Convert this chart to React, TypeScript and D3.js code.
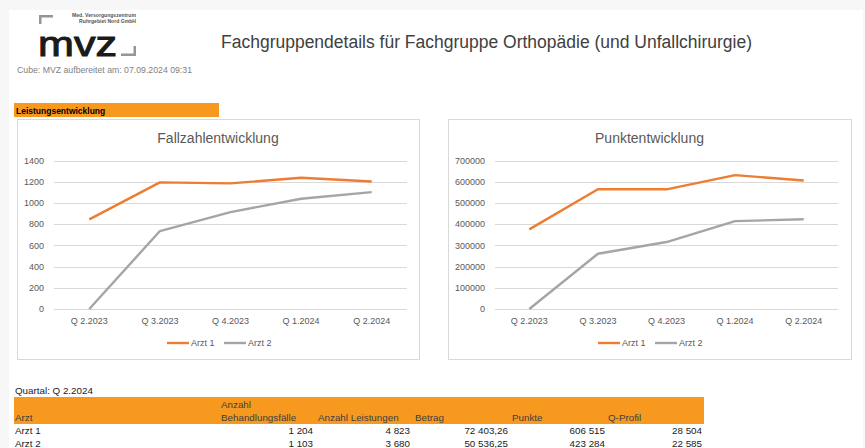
import React from 'react';
import * as d3 from 'd3';

// Quartale und Werte aus dem Bericht
const quarters = ['Q 2.2023', 'Q 3.2023', 'Q 4.2023', 'Q 1.2024', 'Q 2.2024'];
const seriesNames = ['Arzt 1', 'Arzt 2'];
const fallArzt1 = [846, 1195, 1186, 1239, 1204];
const fallArzt2 = [0, 736, 915, 1041, 1103];
const punkteArzt1 = [376000, 565000, 565000, 632000, 606515];
const punkteArzt2 = [0, 261000, 316000, 415000, 423284];
const fallTicks = [0, 200, 400, 600, 800, 1000, 1200, 1400];
const punkteTicks = [0, 100000, 200000, 300000, 400000, 500000, 600000, 700000];

const tableHeader = ['Arzt', 'Anzahl\nBehandlungsfälle', 'Anzahl Leistungen', 'Betrag', 'Punkte', 'Q-Profil'];
const tableRows = [
  ['Arzt 1', '1 204', '4 823', '72 403,26', '606 515', '28 504'],
  ['Arzt 2', '1 103', '3 680', '50 536,25', '423 284', '22 585'],
];

const colors = ['#ED7D31', '#A5A5A5'];
const font = '"Liberation Sans", Arial, sans-serif';

type ChartProps = {
  left: number; right: number; top: number; bottom: number;
  plotLeft: number; plotRight: number;
  title: string; ticks: number[]; series: number[][];
  legendX: number;
};

function LineChart(p: ChartProps) {
  const x = d3.scaleBand().domain(quarters).range([p.plotLeft, p.plotRight]);
  const y = d3.scaleLinear().domain([0, d3.max(p.ticks) as number]).range([309, 160.7]);
  const line = d3.line<number>()
    .x((d, i) => (x(quarters[i]) as number) + x.bandwidth() / 2)
    .y(d => y(d));

  return (
    <g>
      <rect x={p.left + 0.5} y={p.top + 0.5} width={p.right - p.left} height={p.bottom - p.top}
        fill="#fff" stroke="#d9d9d9" />
      <text x={(p.left + p.right) / 2} y={143} textAnchor="middle" fontSize={14} fill="#595959">{p.title}</text>
      {p.ticks.map(t => (
        <g key={t}>
          <line x1={p.plotLeft} x2={p.plotRight} y1={Math.round(y(t)) + 0.5} y2={Math.round(y(t)) + 0.5} stroke="#d9d9d9" />
          <text x={p.plotLeft - 10} y={y(t) + 3.2} textAnchor="end" fontSize={9} fill="#595959">{t}</text>
        </g>
      ))}
      {quarters.map(q => (
        <text key={q} x={(x(q) as number) + x.bandwidth() / 2} y={324} textAnchor="middle" fontSize={9} fill="#595959">{q}</text>
      ))}
      {p.series.map((s, i) => (
        <path key={i} d={line(s) as string} fill="none" stroke={colors[i]} strokeWidth={2.4} strokeLinejoin="round" />
      ))}
      {seriesNames.map((n, i) => {
        const lx = p.legendX + i * 57;
        return (
          <g key={n}>
            <line x1={lx} x2={lx + 22} y1={343} y2={343} stroke={colors[i]} strokeWidth={2.4} />
            <text x={lx + 24} y={346.2} fontSize={9} fill="#595959">{n}</text>
          </g>
        );
      })}
    </g>
  );
}

export default function App() {
  const colLeft = [15, 221, 318, 415, 512, 608];
  const colRight = [0, 313, 410, 508, 605, 702];
  return (
    <svg width={865} height={448} style={{ position: 'absolute', left: 0, top: 0 }} fontFamily={font}>
      <rect width={865} height={448} fill="#f7f7f7" />
      <rect x={9} y={10} width={854} height={438} fill="#fff" />

      {/* Logo */}
      <path d="M39,15 H53 V17.5 H41.5 V24 H39 Z" fill="#9c958d" />
      <path d="M136,56 H121 V53.5 H133.5 V46 H136 Z" fill="#9c958d" />
      <text x={136} y={17} textAnchor="end" fontSize={5.1} fontWeight="bold" fill="#555">Med. Versorgungszentrum</text>
      <text x={136} y={22.8} textAnchor="end" fontSize={5.1} fontWeight="bold" fill="#555">Ruhrgebiet Nord GmbH</text>
      <text x={38} y={56} fontSize={35} fill="#1a1a1a" stroke="#1a1a1a" strokeWidth={1}
        textLength={79} lengthAdjust="spacingAndGlyphs">mvz</text>
      <text x={17} y={73} fontSize={8.5} fill="#7f7f7f" textLength={175} lengthAdjust="spacingAndGlyphs">Cube: MVZ aufbereitet am: 07.09.2024 09:31</text>

      <text x={221} y={48} fontSize={18} fill="#404040" textLength={531} lengthAdjust="spacingAndGlyphs">
        Fachgruppendetails für Fachgruppe Orthopädie (und Unfallchirurgie)
      </text>

      <rect x={14} y={103} width={205} height={14} fill="#F7991F" />
      <text x={16} y={113.5} fontSize={8.5} fontWeight="bold" fill="#000">Leistungsentwicklung</text>

      <LineChart left={17} right={419} top={119} bottom={359} plotLeft={54} plotRight={407}
        title="Fallzahlentwicklung" ticks={fallTicks} series={[fallArzt1, fallArzt2]} legendX={167} />
      <LineChart left={448} right={851} top={119} bottom={359} plotLeft={495} plotRight={838}
        title="Punktentwicklung" ticks={punkteTicks} series={[punkteArzt1, punkteArzt2]} legendX={598} />

      {/* Tabelle */}
      <text x={15} y={394} fontSize={9.8} fill="#1a1a1a">Quartal: Q 2.2024</text>
      <rect x={14} y={397} width={690} height={27} fill="#F7991F" />
      {tableHeader.map((h, i) => {
        const lines = h.split('\n');
        return lines.map((l, j) => (
          <text key={i + '-' + j} x={colLeft[i]} y={421 - (lines.length - 1 - j) * 13} fontSize={9.8} fill="#404040">{l}</text>
        ));
      })}
      {tableRows.map((r, ri) => r.map((c, ci) => (
        <text key={ri + '-' + ci} x={ci === 0 ? colLeft[0] : colRight[ci]} y={434 + ri * 13}
          textAnchor={ci === 0 ? 'start' : 'end'} fontSize={9.8} fill="#1a1a1a">{c}</text>
      )))}
    </svg>
  );
}
